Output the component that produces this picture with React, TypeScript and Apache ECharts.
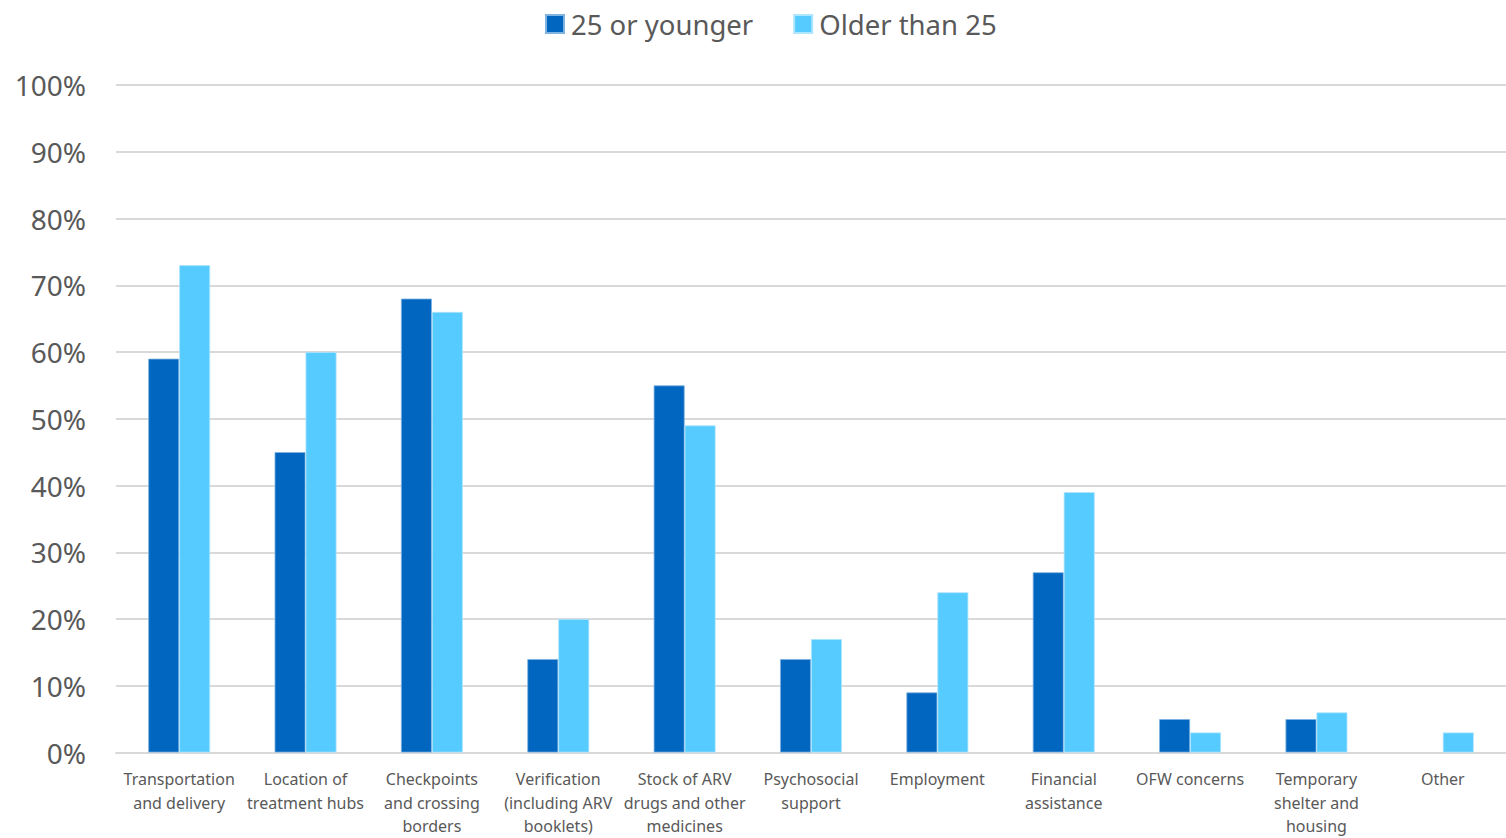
import React, { useEffect, useRef } from "react";
import * as echarts from "echarts";

const categories = [
  "Transportation\nand delivery",
  "Location of\ntreatment hubs",
  "Checkpoints\nand crossing\nborders",
  "Verification\n(including ARV\nbooklets)",
  "Stock of ARV\ndrugs and other\nmedicines",
  "Psychosocial\nsupport",
  "Employment",
  "Financial\nassistance",
  "OFW concerns",
  "Temporary\nshelter and\nhousing",
  "Other",
];
const youngerValues = [59, 45, 68, 14, 55, 14, 9, 27, 5, 5, 0];
const olderValues = [73, 60, 66, 20, 49, 17, 24, 39, 3, 6, 3];
const seriesNames = ["25 or younger", "Older than 25"];
const yTicks = [0, 10, 20, 30, 40, 50, 60, 70, 80, 90, 100];

const FONT = "'Noto Sans', sans-serif";
const TEXT = "#595959";

const toData = (vals: number[]) =>
  vals.map((v) => (v === 0 ? { value: v, itemStyle: { borderWidth: 0 } } : v));

export default function App() {
  const ref = useRef<HTMLDivElement>(null);
  useEffect(() => {
    if (!ref.current) return;
    const chart = echarts.init(ref.current, null, { renderer: "svg" });
    chart.setOption({
      animation: false,
      textStyle: { fontFamily: FONT },
      legend: {
        top: 5,
        left: 540,
        itemWidth: 18,
        itemHeight: 18,
        itemGap: 40,
        icon: "rect",
        textStyle: { fontSize: 27.5, color: TEXT, fontFamily: FONT, padding: [0, 0, 0, 2] },
        data: seriesNames,
      },
      grid: { left: 116, right: 0, top: 85, bottom: 82 },
      xAxis: {
        type: "category",
        data: categories,
        axisLine: { lineStyle: { color: "#d9d9d9", width: 2 } },
        axisTick: { show: false },
        axisLabel: {
          interval: 0,
          fontSize: 16,
          lineHeight: 23.5,
          color: TEXT,
          margin: 15,
          fontFamily: FONT,
        },
      },
      yAxis: {
        type: "value",
        min: yTicks[0],
        max: yTicks[yTicks.length - 1],
        interval: 10,
        axisLine: { show: false },
        axisTick: { show: false },
        splitLine: { lineStyle: { color: "#d9d9d9", width: 2 } },
        axisLabel: {
          formatter: "{value}%",
          fontSize: 28,
          color: TEXT,
          margin: 30,
          fontFamily: FONT,
        },
      },
      series: [
        {
          name: seriesNames[0],
          type: "bar",
          data: toData(youngerValues),
          barGap: "0%",
          barCategoryGap: "51%",
          itemStyle: { color: "#0066C0", borderColor: "#7FB3E0", borderWidth: 0.8 },
        },
        {
          name: seriesNames[1],
          type: "bar",
          data: toData(olderValues),
          barGap: "0%",
          barCategoryGap: "51%",
          itemStyle: { color: "#55CBFF", borderColor: "#AEE5FF", borderWidth: 0.8 },
        },
      ],
    });
    return () => chart.dispose();
  }, []);
  return (
    <div
      ref={ref}
      style={{ position: "fixed", left: 0, top: 0, width: 1506, height: 838, background: "#fff" }}
    />
  );
}
